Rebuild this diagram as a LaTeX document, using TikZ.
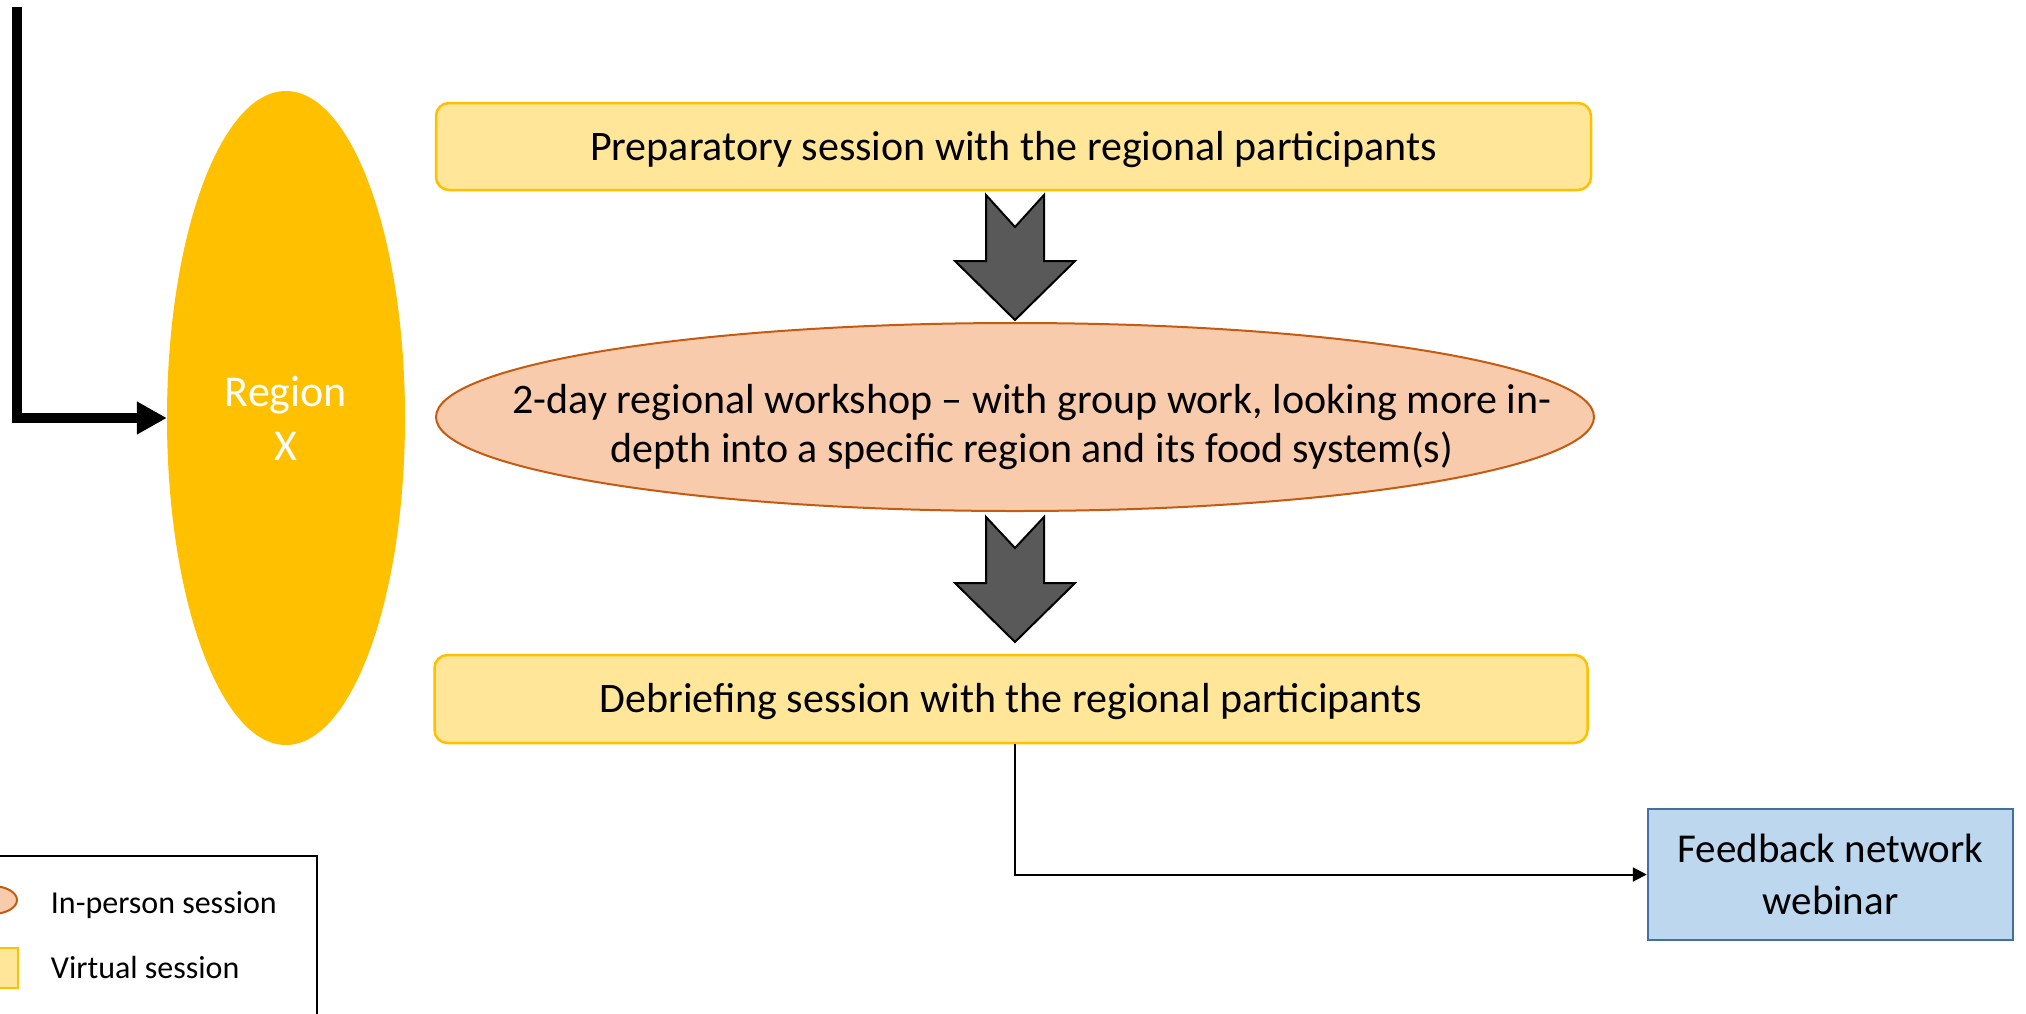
\documentclass[tikz,border=0pt]{standalone}
\usepackage{fontspec}
\setmainfont{Carlito}
\usetikzlibrary{shapes.geometric,arrows.meta}
\definecolor{vfill}{HTML}{FFE699}
\definecolor{vdraw}{HTML}{FFC000}
\definecolor{pfill}{HTML}{F8CBAD}
\definecolor{pdraw}{HTML}{C55A11}
\definecolor{regionfill}{HTML}{FFC000}
\definecolor{bfill}{HTML}{BDD7EE}
\definecolor{bdraw}{HTML}{41719C}
\definecolor{arrfill}{HTML}{595959}
\tikzset{
  virtualbox/.style={draw=vdraw, fill=vfill, line width=2.5pt, rounded corners=13pt,
    inner sep=0pt, font=\fontsize{42}{51}\selectfont, text height=27pt, text depth=0pt},
  inpersonshape/.style={ellipse, draw=pdraw, fill=pfill, line width=2pt, inner sep=0pt},
  webinarbox/.style={draw=bdraw, fill=bfill, line width=2.5pt, inner sep=0pt, align=center,
    font=\fontsize{41}{51.7}\selectfont},
  blockarr/.style={draw=black, fill=arrfill, line width=2pt, line join=miter},
  thinconn/.style={draw=black, line width=2pt, -{Triangle[length=14pt,width=14pt]}},
  thickconn/.style={draw=black, line width=10pt, line join=miter, -{Triangle[length=30pt,width=31pt]}},
  legendtext/.style={anchor=base west, inner sep=0pt, font=\fontsize{32}{38}\selectfont}
}
\begin{document}
\begin{tikzpicture}[x=1pt,y=-1pt]
\useasboundingbox (0,0) rectangle (2026,1013);

% legend
\node[draw=black, fill=white, line width=2pt, minimum width=327pt, minimum height=184pt, inner sep=0pt] (legend) at (153.5,948) {};
\node[inpersonshape, minimum width=50pt, minimum height=28pt] (legip) at (-8,900) {};
\node[draw=vdraw, fill=vfill, line width=2pt, minimum width=40pt, minimum height=40pt, inner sep=0pt] (legv) at (-2,968) {};
\node[legendtext] (legiptext) at (50.7,913) {In-person session};
\node[legendtext] (legvtext) at (50.7,978) {Virtual session};

% region
\node[ellipse, fill=regionfill, minimum width=238pt, minimum height=654pt, inner sep=0pt,
  text=white, align=center, font=\fontsize{44}{54}\selectfont] (region) at (286,418) {Region\\X};
\coordinate (feedin) at (17,7);
\draw[thickconn] (feedin) |- (region.west);

% main flow
\node[virtualbox, minimum width=1155pt, minimum height=87pt] (prep) at (1013.5,146.5)
  {Preparatory session with the regional participants};
\node[inpersonshape, minimum width=1158pt, minimum height=188pt] (ws) at (1015,417) {};
\node[align=center, inner sep=0pt, font=\fontsize{42}{49}\selectfont] (wstext) at (1032,427)
  {2-day regional workshop – with group work, looking more in-\\depth into a specific region and its food system(s)};
\node[virtualbox, minimum width=1153pt, minimum height=88pt] (debrief) at (1011,699)
  {Debriefing session with the regional participants};
\node[webinarbox, minimum width=365pt, minimum height=131pt] (fb) at (1830.5,874.5)
  {Feedback network\\webinar};

% block arrows
\draw[blockarr, shift={(1015,195)}] (-29,0) -- (0,32) -- (29,0) -- (29,66) -- (60,66) -- (0,125) -- (-60,66) -- (-29,66) -- cycle;
\draw[blockarr, shift={(1015,517)}] (-29,0) -- (0,31) -- (29,0) -- (29,66) -- (60,66) -- (0,125) -- (-60,66) -- (-29,66) -- cycle;

% connector
\draw[thinconn] ([xshift=4pt]debrief.south) |- (fb.west);
\end{tikzpicture}
\end{document}
